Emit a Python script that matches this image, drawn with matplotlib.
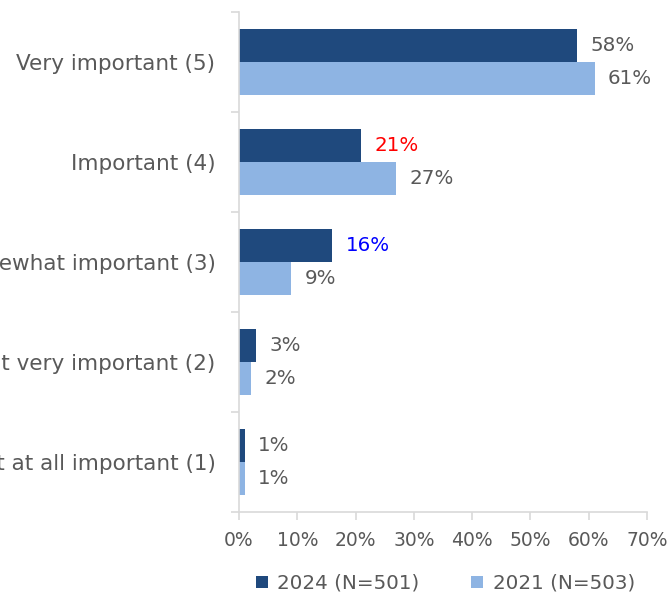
import numpy as np
import matplotlib.pyplot as plt
from matplotlib.ticker import MultipleLocator, FuncFormatter

categories = ["Very important (5)", "Important (4)", "Somewhat important (3)",
              "Not very important (2)", "Not at all important (1)"]
pct_2024 = [58, 21, 16, 3, 1]
pct_2021 = [61, 27, 9, 2, 1]
label_2024 = "2024 (N=501)"
label_2021 = "2021 (N=503)"

# label colours for the 2024 values (highlight the changes)
colors_2024_labels = ["#595959", "#ff0000", "#0000ff", "#595959", "#595959"]

dark = "#1f497d"
light = "#8eb4e3"
text_gray = "#595959"
axis_gray = "#d9d9d9"

plt.rcParams["font.family"] = ["DejaVu Sans"]

fig = plt.figure(figsize=(6.7, 6.0), dpi=100)
ax = fig.add_axes([0.3567, 0.1467, 0.609, 0.8333])

y = np.arange(len(categories))
h = 0.33
ax.barh(y - h / 2, pct_2024, height=h, color=dark, label=label_2024)
ax.barh(y + h / 2, pct_2021, height=h, color=light, label=label_2021)

for i in range(len(categories)):
    ax.text(pct_2024[i] + 2.3, y[i] - h / 2, f"{pct_2024[i]}%", va="center", ha="left",
            fontsize=14.3, color=colors_2024_labels[i])
    ax.text(pct_2021[i] + 2.3, y[i] + h / 2, f"{pct_2021[i]}%", va="center", ha="left",
            fontsize=14.3, color=text_gray)

ax.set_xlim(0, 70)
ax.set_ylim(len(categories) - 0.5, -0.5)
ax.xaxis.set_major_locator(MultipleLocator(10))
ax.xaxis.set_major_formatter(FuncFormatter(lambda v, p: f"{v:.0f}%"))

# category names sit between boundary ticks
ax.set_yticks(y)
ax.set_yticklabels(categories)
ax.set_yticks(np.arange(-0.5, len(categories), 1), minor=True)
ax.tick_params(axis="y", which="major", length=0, pad=17, labelsize=15.5, labelcolor=text_gray)
ax.tick_params(axis="y", which="minor", length=6, color=axis_gray, width=1.2)
ax.tick_params(axis="x", length=6, color=axis_gray, width=1.2, labelsize=13.5, labelcolor=text_gray, pad=8)

for s in ["top", "right"]:
    ax.spines[s].set_visible(False)
for s in ["left", "bottom"]:
    ax.spines[s].set_color(axis_gray)
    ax.spines[s].set_linewidth(1.2)

fig.legend(loc="lower center", bbox_to_anchor=(0.665, -0.018), ncol=2, frameon=False,
           fontsize=14.3, labelcolor=text_gray, handlelength=0.6, handleheight=0.6,
           handletextpad=0.5, columnspacing=2.6)

fig.savefig("out.png", dpi=100)
